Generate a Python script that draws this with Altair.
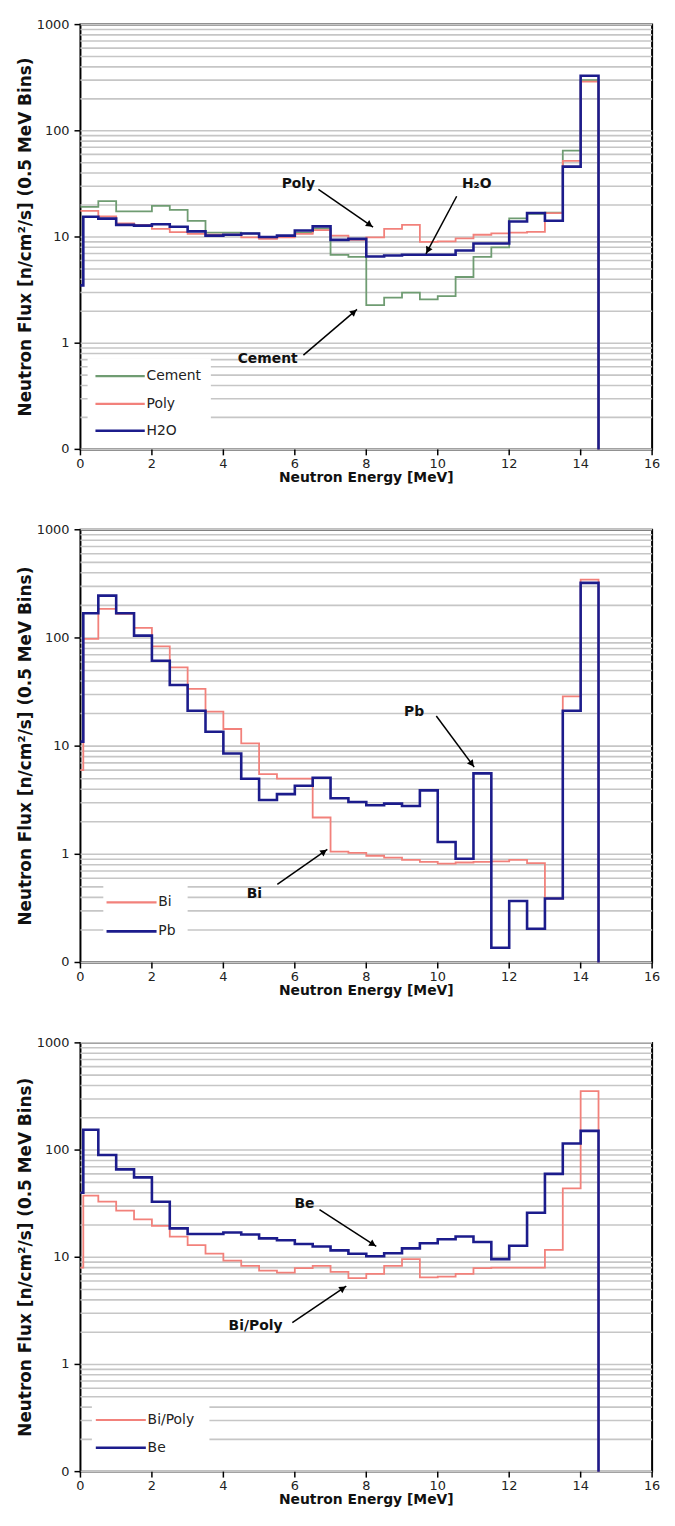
import math
import altair as alt
import pandas as pd

# ---------------- data (0.5 MeV bins, 0 -> 14.5 MeV) ----------------
cement = [19.2, 21.8, 17.4, 17.4, 19.6, 18.0, 14.2, 11.0, 11.0, 10.8, 10.0, 10.2, 11.0, 12.0,
          6.8, 6.5, 2.28, 2.69, 3.0, 2.59, 2.77, 4.2, 6.5, 8.0, 15.0, 16.5, 17.0, 65, 300]
poly = [17.6, 15.6, 13.4, 13.0, 11.9, 11.1, 10.7, 10.5, 10.5, 9.9, 9.6, 9.9, 10.7, 11.6,
        10.3, 9.4, 9.9, 11.9, 13.0, 9.0, 9.1, 9.7, 10.5, 10.8, 11.0, 11.2, 16.8, 52, 290]
h2o = [15.5, 14.9, 13.0, 12.8, 13.2, 12.5, 11.3, 10.3, 10.5, 10.8, 10.0, 10.3, 11.5, 12.6,
       9.4, 9.6, 6.55, 6.7, 6.8, 6.8, 6.8, 7.45, 8.7, 8.7, 14.0, 16.8, 14.2, 46, 330]

bi = [98, 186, 167, 124, 83.7, 53.5, 33.8, 20.8, 14.4, 10.6, 5.5, 5.0, 5.0, 2.19,
      1.06, 1.03, 0.97, 0.93, 0.89, 0.85, 0.82, 0.84, 0.85, 0.86, 0.89, 0.83, 0.39, 28.8, 346]
pb = [169, 246, 169, 105, 61.6, 36.7, 21.2, 13.6, 8.55, 5.0, 3.18, 3.6, 4.3, 5.1,
      3.3, 3.05, 2.84, 2.94, 2.8, 3.9, 1.3, 0.91, 5.6, 0.137, 0.37, 0.205, 0.39, 21.2, 323]

bipoly = [37.5, 33, 27.2, 22.6, 19.6, 15.6, 13.0, 10.8, 9.3, 8.3, 7.5, 7.2, 7.9, 8.3,
          7.3, 6.4, 7.0, 8.3, 9.6, 6.5, 6.6, 7.0, 7.9, 8.0, 8.0, 8.0, 11.7, 44, 354]
be = [155, 90, 66, 55.6, 33, 18.6, 16.5, 16.5, 17.0, 16.3, 15.0, 14.4, 13.3, 12.6,
      11.6, 10.8, 10.2, 10.9, 12.1, 13.5, 14.7, 15.6, 13.9, 9.6, 12.8, 26, 60, 115, 151]

# flux value at E = 0 before the first bin (spike at the origin); None = none
spike = {"Cement": None, "Poly": None, "H2O": 3.5, "Bi": 6.0, "Pb": 11.0,
         "Bi/Poly": 8.0, "Be": 40.0}

bin_width = 0.5
floor_value = 0.1
grid_values = [m * 10 ** e for e in (-1, 0, 1, 2) for m in range(1, 10)] + [1000]
y_label_values = [0.1, 1, 10, 100, 1000]
y_label_texts = ["0", "1", "10", "100", "1000"]
x_tick_values = list(range(0, 17, 2))
x_title = "Neutron Energy [MeV]"
y_title = "Neutron Flux [n/cm²/s] (0.5 MeV Bins)"

GREEN = "#6f9c72"
RED = "#f2817b"
BLUE = "#1c1c8c"

W = 576
FONT = "DejaVu Sans"


def step_frame(name, vals):
    xs, ys = [], []
    if spike[name] is not None:
        xs += [0.0, 0.08]
        ys += [spike[name], vals[0]]
    else:
        xs.append(0.0)
        ys.append(vals[0])
    for i, v in enumerate(vals[1:], start=1):
        xs.append(i * bin_width)
        ys.append(v)
    xs.append(len(vals) * bin_width)
    ys.append(floor_value)
    return pd.DataFrame({"E": xs, "flux": ys, "order": list(range(len(xs)))})


def to_px(e, v, H):
    return e / 16 * W, H * (1 - (math.log10(v) + 1) / 4)


def from_px(px, py, H):
    return px / W * 16, 10 ** ((1 - py / H) * 4 - 1)


def panel(series, legend, notes, H):
    xscale = alt.Scale(domain=[0, 16], nice=False, zero=False)
    yscale = alt.Scale(type="log", domain=[0.1, 1000], nice=False)

    def X(f):
        return alt.X(f, scale=xscale, axis=None)

    def Y(f):
        return alt.Y(f, scale=yscale, axis=None)

    gdf = pd.DataFrame({"flux": grid_values})
    grid = alt.Chart(gdf).mark_rule(color="#c6c6c6", strokeWidth=1.6).encode(y=Y("flux:Q"))

    # legend box (hides the grid lines)
    box = alt.Chart(pd.DataFrame([legend["box"]])).mark_rect(fill="white").encode(
        x=X("x1:Q"), x2="x2:Q", y=Y("y1:Q"), y2="y2:Q")

    layers = [grid, box]
    for name, vals, color, sw in series:
        layers.append(
            alt.Chart(step_frame(name, vals)).mark_line(
                interpolate="step-after", color=color, strokeWidth=sw, strokeJoin="miter")
            .encode(x=X("E:Q"), y=Y("flux:Q"), order="order:Q"))

    # ---- axes (ticks, labels, titles) ----
    ylab = pd.DataFrame({"flux": y_label_values, "lab": y_label_texts})
    layers.append(alt.Chart(ylab).mark_rule(color="black", strokeWidth=1.5).encode(
        x=alt.value(-6), x2=alt.value(0), y=Y("flux:Q")))
    layers.append(alt.Chart(ylab).mark_text(
        align="right", baseline="middle", dx=-11, font=FONT, fontSize=13, color="#222"
    ).encode(x=alt.value(0), y=Y("flux:Q"), text="lab:N"))
    xlab = pd.DataFrame({"E": x_tick_values, "lab": [str(v) for v in x_tick_values]})
    layers.append(alt.Chart(xlab).mark_rule(color="black", strokeWidth=1.5).encode(
        x=X("E:Q"), y=alt.value(H), y2=alt.value(H + 6)))
    layers.append(alt.Chart(xlab).mark_text(
        align="center", baseline="middle", dy=15, font=FONT, fontSize=13, color="#222"
    ).encode(x=X("E:Q"), y=alt.value(H), text="lab:N"))
    layers.append(alt.Chart(pd.DataFrame({"t": [x_title]})).mark_text(
        align="center", baseline="middle", dy=29, font=FONT, fontSize=14,
        fontWeight="bold", color="#111"
    ).encode(x=alt.value(W / 2), y=alt.value(H), text="t:N"))
    layers.append(alt.Chart(pd.DataFrame({"t": [y_title]})).mark_text(
        align="center", baseline="middle", angle=270, font=FONT, fontSize=17,
        fontWeight="bold", color="#111"
    ).encode(x=alt.value(-55), y=alt.value(H / 2), text="t:N"))

    # legend entries
    leg = pd.DataFrame(legend["rows"])
    layers.append(alt.Chart(leg).mark_rule().encode(
        x=X("s1:Q"), x2="s2:Q", y=Y("y:Q"),
        color=alt.Color("color:N", scale=None),
        strokeWidth=alt.StrokeWidth("sw:Q", scale=None)))
    layers.append(alt.Chart(leg).mark_text(
        align="left", baseline="middle", font=FONT, fontSize=14, color="#222"
    ).encode(x=X("t:Q"), y=Y("y:Q"), text="label:N"))

    # annotations: label + arrow
    txt = pd.DataFrame([{"E": n["text"][0], "flux": n["text"][1], "label": n["label"]} for n in notes])
    seg_rows, head_rows = [], []
    for i, n in enumerate(notes):
        (e0, v0), (e1, v1) = n["tail"], n["head"]
        seg_rows += [{"id": i, "E": e0, "flux": v0, "k": 0}, {"id": i, "E": e1, "flux": v1, "k": 1}]
        x0, y0 = to_px(e0, v0, H)
        x1, y1 = to_px(e1, v1, H)
        dx, dy = x1 - x0, y1 - y0
        L = math.hypot(dx, dy)
        ang = math.degrees(math.atan2(dx, -dy)) % 360
        cx, cy = x1 - dx / L * 4, y1 - dy / L * 4
        he, hv = from_px(cx, cy, H)
        head_rows.append({"E": he, "flux": hv, "angle": ang})
    layers.append(alt.Chart(pd.DataFrame(seg_rows)).mark_line(color="black", strokeWidth=1.5).encode(
        x=X("E:Q"), y=Y("flux:Q"), detail="id:N", order="k:Q"))
    layers.append(alt.Chart(pd.DataFrame(head_rows)).mark_point(
        shape="triangle-up", filled=True, color="black", size=55, opacity=1).encode(
        x=X("E:Q"), y=Y("flux:Q"), angle=alt.Angle("angle:Q", scale=None)))
    layers.append(alt.Chart(txt).mark_text(
        font=FONT, fontWeight="bold", fontSize=14, color="#111", baseline="middle"
    ).encode(x=X("E:Q"), y=Y("flux:Q"), text="label:N"))
    return alt.layer(*layers).properties(width=W, height=H)


p1 = panel(
    [("Cement", cement, GREEN, 1.8), ("Poly", poly, RED, 1.8), ("H2O", h2o, BLUE, 2.6)],
    {"box": {"x1": 0.2, "x2": 3.65, "y1": 0.72, "y2": 0.104},
     "rows": [
         {"label": "Cement", "y": 0.49, "s1": 0.42, "s2": 1.8, "t": 1.85, "color": GREEN, "sw": 2.2},
         {"label": "Poly", "y": 0.268, "s1": 0.42, "s2": 1.8, "t": 1.85, "color": RED, "sw": 2.2},
         {"label": "H2O", "y": 0.15, "s1": 0.42, "s2": 1.8, "t": 1.85, "color": BLUE, "sw": 2.6},
     ]},
    [
        {"label": "Poly", "text": (6.1, 31.3), "tail": (6.66, 28.1), "head": (8.19, 12.4)},
        {"label": "H₂O", "text": (11.09, 31.3), "tail": (10.53, 24.2), "head": (9.67, 6.93)},
        {"label": "Cement", "text": (5.24, 0.708), "tail": (6.24, 0.773), "head": (7.74, 2.08)},
    ],
    428,
)

p2 = panel(
    [("Bi", bi, RED, 1.8), ("Pb", pb, BLUE, 2.6)],
    {"box": {"x1": 0.64, "x2": 3.0, "y1": 0.527, "y2": 0.115},
     "rows": [
         {"label": "Bi", "y": 0.36, "s1": 0.73, "s2": 2.13, "t": 2.18, "color": RED, "sw": 2.2},
         {"label": "Pb", "y": 0.194, "s1": 0.73, "s2": 2.13, "t": 2.18, "color": BLUE, "sw": 2.6},
     ]},
    [
        {"label": "Pb", "text": (9.34, 20.6), "tail": (9.96, 19.0), "head": (11.02, 6.4)},
        {"label": "Bi", "text": (4.87, 0.427), "tail": (5.51, 0.527), "head": (6.91, 1.11)},
    ],
    436,
)

p3 = panel(
    [("Bi/Poly", bipoly, RED, 1.8), ("Be", be, BLUE, 2.6)],
    {"box": {"x1": 0.32, "x2": 3.61, "y1": 0.464, "y2": 0.111},
     "rows": [
         {"label": "Bi/Poly", "y": 0.303, "s1": 0.43, "s2": 1.83, "t": 1.88, "color": RED, "sw": 2.2},
         {"label": "Be", "y": 0.167, "s1": 0.43, "s2": 1.83, "t": 1.88, "color": BLUE, "sw": 2.6},
     ]},
    [
        {"label": "Be", "text": (6.27, 31.6), "tail": (6.69, 27.8), "head": (8.28, 12.6)},
        {"label": "Bi/Poly", "text": (4.9, 2.3), "tail": (5.93, 2.45), "head": (7.44, 5.38)},
    ],
    432,
)

chart = alt.vconcat(p1, p2, p3, spacing=37).properties(
    padding={"left": 7, "top": 4, "right": 5, "bottom": 5}
).configure_view(stroke="black", strokeWidth=2)

chart.save("out.html", embed_options={"renderer": "svg", "actions": False})
